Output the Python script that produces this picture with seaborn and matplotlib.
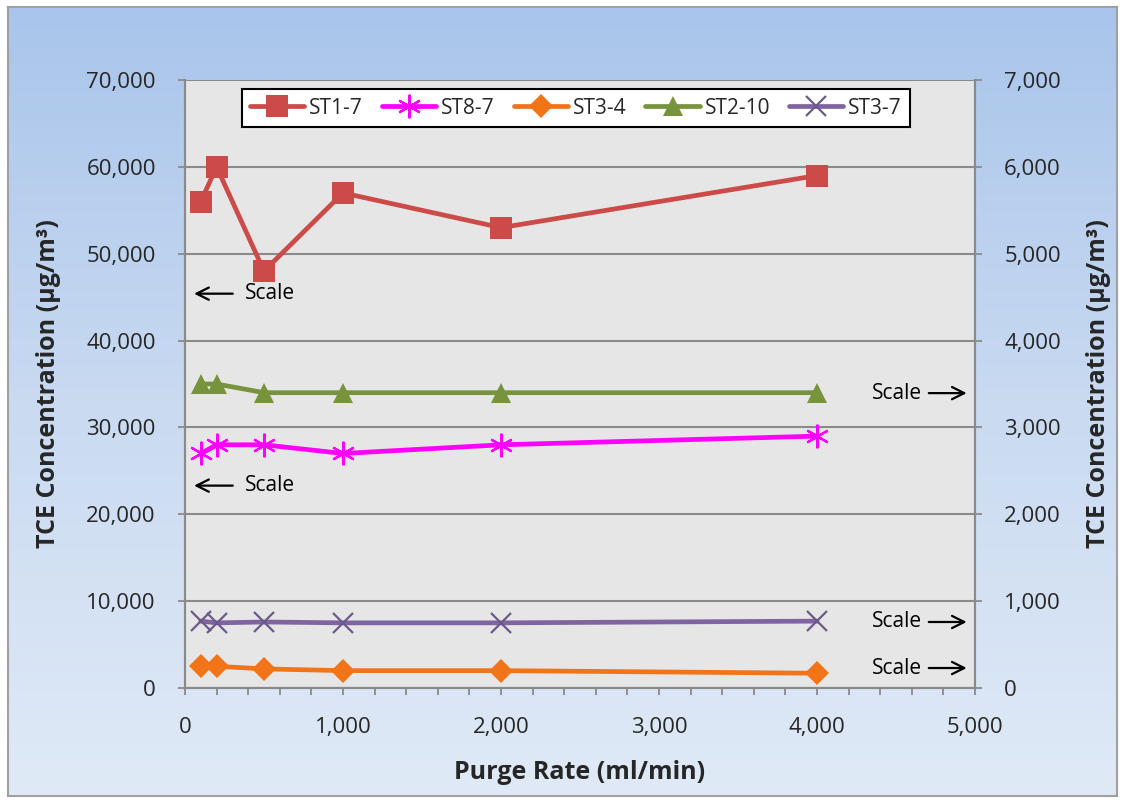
import numpy as np
import pandas as pd
import seaborn as sns
import matplotlib.pyplot as plt
from matplotlib.colors import LinearSegmentedColormap
from matplotlib.ticker import FuncFormatter, MultipleLocator

# Data
purge_rate = [100, 200, 500, 1000, 2000, 4000]
st1_7 = [56000, 60000, 48000, 57000, 53000, 59000]   # left axis
st8_7 = [27000, 28000, 28000, 27000, 28000, 29000]   # left axis
st3_4 = [250, 250, 220, 200, 200, 170]               # right axis
st2_10 = [3500, 3500, 3400, 3400, 3400, 3400]        # right axis
st3_7 = [770, 750, 760, 750, 750, 770]               # right axis

sns.set_style('ticks')
plt.rcParams['font.family'] = ['Open Sans', 'DejaVu Sans']

fig = plt.figure(figsize=(11.25, 8.02), dpi=100)
fig.patch.set_facecolor('white')

# blue gradient panel behind everything
bg = fig.add_axes([8/1125, 6/802, 1109/1125, 789/802], zorder=-10)
cmap = LinearSegmentedColormap.from_list('bg', ['#a9c5eb', '#c9daf1', '#e0eaf7'])
bg.imshow(np.linspace(0, 1, 256).reshape(-1, 1), aspect='auto', cmap=cmap,
          extent=[0, 1, 0, 1])
bg.set_xticks([])
bg.set_yticks([])
for s in bg.spines.values():
    s.set_color('#a0a0a0')
    s.set_linewidth(1.5)

ax = fig.add_axes([185/1125, 1 - 688/802, 790/1125, 608/802])
ax.set_facecolor('#e6e6e6')
ax2 = ax.twinx()

df_left = pd.DataFrame({'rate': purge_rate, 'ST1-7': st1_7, 'ST8-7': st8_7})
df_right = pd.DataFrame({'rate': purge_rate, 'ST3-4': st3_4, 'ST2-10': st2_10, 'ST3-7': st3_7})

lw = 3.4
sns.lineplot(data=df_left, x='rate', y='ST1-7', ax=ax, color='#cc4a47', lw=lw,
             marker='s', markersize=15.5, markeredgewidth=0, label='ST1-7', legend=False)
sns.lineplot(data=df_left, x='rate', y='ST8-7', ax=ax, color='#ff00ff', lw=lw,
             marker=(6, 2, 0), markersize=17, markeredgewidth=1.6,
             markeredgecolor='#ff00ff', label='ST8-7', legend=False)
sns.lineplot(data=df_right, x='rate', y='ST3-4', ax=ax2, color='#f27419', lw=lw,
             marker='D', markersize=12, markeredgewidth=0, label='ST3-4', legend=False)
sns.lineplot(data=df_right, x='rate', y='ST2-10', ax=ax2, color='#77933c', lw=lw,
             marker='^', markersize=15, markeredgewidth=0, label='ST2-10', legend=False)
sns.lineplot(data=df_right, x='rate', y='ST3-7', ax=ax2, color='#8064a2', lw=lw,
             marker='x', markersize=14, markeredgewidth=1.6, markeredgecolor='#6a5a8a',
             label='ST3-7', legend=False)

ax.set_xlim(0, 5000)
ax.set_ylim(0, 70000)
ax2.set_ylim(0, 7000)

comma = FuncFormatter(lambda v, p: f'{int(v):,}')
ax.xaxis.set_major_locator(MultipleLocator(1000))
ax.xaxis.set_minor_locator(MultipleLocator(200))
ax.xaxis.set_major_formatter(comma)
ax.yaxis.set_major_locator(MultipleLocator(10000))
ax.yaxis.set_major_formatter(comma)
ax2.yaxis.set_major_locator(MultipleLocator(1000))
ax2.yaxis.set_major_formatter(comma)

ax.grid(axis='y', color='#8a8a8a', lw=1.5)
ax.set_axisbelow(True)
for a in (ax, ax2):
    a.spines['top'].set_visible(False)
    for side in ('left', 'right', 'bottom'):
        a.spines[side].set_color('#8a8a8a')
        a.spines[side].set_linewidth(1.5)

ax.tick_params(axis='x', which='both', direction='out', length=5, width=1.3,
               color='#8a8a8a', labelsize=16, pad=16, bottom=True)
ax.tick_params(axis='y', direction='out', length=5, width=1.3, color='#8a8a8a',
               labelsize=16, pad=16, left=True)
ax2.tick_params(axis='y', direction='out', length=5, width=1.3, color='#8a8a8a',
                labelsize=16, pad=16, right=True)

ax.set_xlabel('Purge Rate (ml/min)', fontsize=18, fontweight='bold', labelpad=16)
ax.set_ylabel('TCE Concentration (µg/m³)', fontsize=18, fontweight='bold', labelpad=18)
ax2.set_ylabel('TCE Concentration (µg/m³)', fontsize=18, fontweight='bold', labelpad=18)

# "Scale" notes
note = dict(fontsize=15, color='black')
arrow = dict(arrowstyle='->', lw=1.6, color='black', mutation_scale=22)
ax.annotate('', xy=(40, 45400), xytext=(320, 45400), arrowprops=arrow)
ax.text(380, 45400, 'Scale', va='center', ha='left', **note)
ax.annotate('', xy=(40, 23300), xytext=(320, 23300), arrowprops=arrow)
ax.text(380, 23300, 'Scale', va='center', ha='left', **note)
for yv in (33950, 7600, 2300):
    ax.annotate('', xy=(4965, yv), xytext=(4690, yv), arrowprops=arrow)
    ax.text(4665, yv, 'Scale', va='center', ha='right', **note)

handles = [h for h in ax.get_lines() if h.get_label() in ('ST1-7', 'ST8-7')] + \
          [h for h in ax2.get_lines() if h.get_label() in ('ST3-4', 'ST2-10', 'ST3-7')]
leg = ax2.legend(handles, [h.get_label() for h in handles], ncol=5, loc='upper center',
                 bbox_to_anchor=(0.495, 0.995), frameon=True, fancybox=False,
                 fontsize=15, handlelength=2.6, columnspacing=0.9, handletextpad=0.25,
                 borderpad=0.4, borderaxespad=0.3)
leg.get_frame().set_edgecolor('black')
leg.get_frame().set_linewidth(1.5)
leg.get_frame().set_facecolor('white')
leg.get_frame().set_alpha(1)

plt.savefig('out.png', dpi=100)
